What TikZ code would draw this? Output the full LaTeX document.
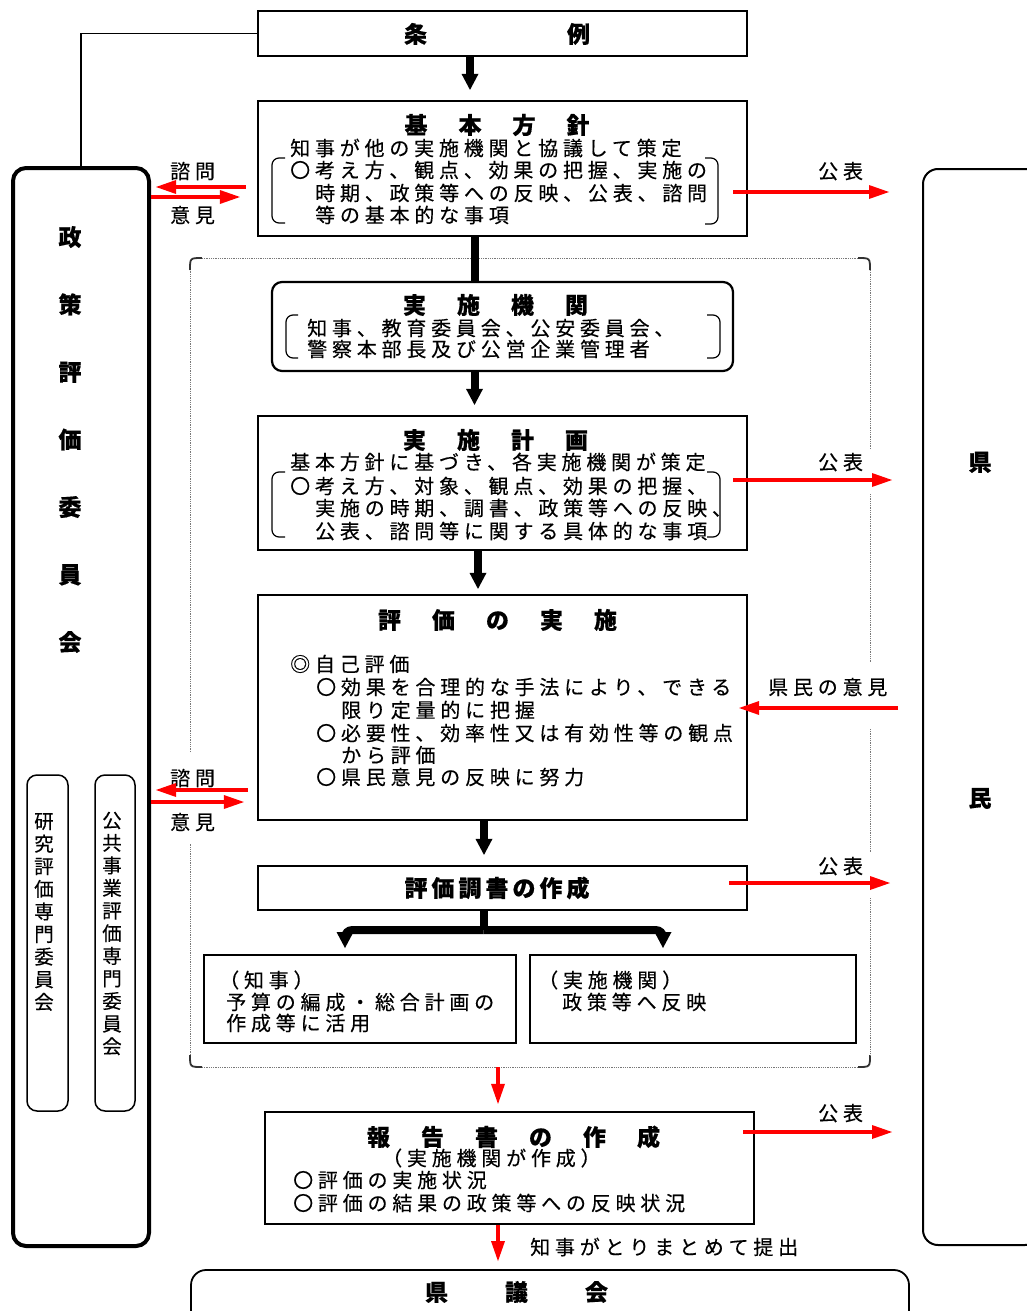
\documentclass[tikz,border=0pt]{standalone}
\usepackage{fontspec}
\usetikzlibrary{arrows.meta,calc}
\newfontfamily\jp[LetterSpace=24,FakeBold=0.3]{Noto Sans CJK JP}
\newfontfamily\jpv[FakeBold=0.3]{Noto Sans CJK JP}
\newfontfamily\jpt[BoldFeatures={FakeBold=0.6}]{Noto Sans CJK JP}
\definecolor{redA}{RGB}{255,0,0}
\definecolor{frameG}{RGB}{120,120,120}
\definecolor{cornerG}{RGB}{50,50,50}
\begin{document}
\begin{tikzpicture}[x=1pt,y=-1pt,
  box/.style={draw, line width=2.2pt, inner sep=0pt},
  txt/.style={anchor=west, inner sep=0pt, font=\jp\fontsize{20}{23}\selectfont, text height=17.6pt, text depth=2.4pt},
  ttl/.style={inner sep=0pt, font=\jpt\bfseries\fontsize{23}{27}\selectfont, text height=20.2pt, text depth=2.8pt},
  vtxt/.style={inner sep=0pt, align=center, font=\jpv\fontsize{19.5}{22.6}\selectfont},
  vbold/.style={inner sep=0pt, align=center, font=\jpt\bfseries\fontsize{23}{67.5}\selectfont},
  redarr/.style={draw=redA, line width=4pt, -{Triangle[length=20pt,width=14pt,line width=0pt]}},
  blk/.style={line width=8pt, -{Triangle[length=16pt,width=17pt,line width=0pt]}},
  brk/.style={line width=1.2pt, rounded corners=7pt},
  dotl/.style={draw=frameG, line width=0.8pt, densely dotted},
  corn/.style={draw=cornerG, line width=1.8pt}
]
\clip (0,0) rectangle (1027,1311);
\fill[white] (0,0) rectangle (1027,1311);

% ---------- main boxes ----------
\node[box, minimum width=489pt, minimum height=45pt] (jorei) at (502.5,33.5) {};
\node[box, minimum width=489pt, minimum height=135pt] (kihon) at (502.5,168.5) {};
\node[box, rounded corners=10pt, minimum width=461pt, minimum height=89pt] (kikan) at (502.5,326.5) {};
\node[box, minimum width=489pt, minimum height=134pt] (keikaku) at (502.5,483) {};
\node[box, minimum width=489pt, minimum height=225pt] (jisshi) at (502.5,707.5) {};
\node[box, minimum width=489pt, minimum height=44pt] (chosho) at (502.5,888) {};
\node[box, minimum width=312pt, minimum height=88pt] (chiji) at (360,999) {};
\node[box, minimum width=326pt, minimum height=88pt] (kikan2) at (693,999) {};
\node[box, minimum width=489pt, minimum height=112pt] (hokoku) at (509.5,1168) {};
\node[draw, line width=1.8pt, rounded corners=15pt, inner sep=0pt, minimum width=718pt, minimum height=65pt] (gikai) at (550,1302.5) {};
\node[draw, line width=4pt, rounded corners=13pt, inner sep=0pt, minimum width=136pt, minimum height=1078pt] (iinkai) at (81,707) {};
\node[draw, line width=1.5pt, rounded corners=10pt, inner sep=0pt, minimum width=41pt, minimum height=336pt] (kenkyu) at (47.5,943) {};
\node[draw, line width=1.5pt, rounded corners=10pt, inner sep=0pt, minimum width=40pt, minimum height=336pt] (koukyou) at (115,943) {};
\node[draw, line width=2pt, rounded corners=15pt, inner sep=0pt, minimum width=117pt, minimum height=1076pt] (kenmin) at (981.5,707) {};
\node[inner sep=0pt, minimum width=680pt, minimum height=809pt] (group) at (530,662.5) {};

% ---------- dotted group frame ----------
\draw[corn] (190,270) .. controls (190,258) .. (202,258);
\draw[corn] (858,258) .. controls (870,258) .. (870,270);
\draw[corn] (870,1055) .. controls (870,1067) .. (858,1067);
\draw[corn] (202,1067) .. controls (190,1067) .. (190,1055);
\draw[dotl] (202,258) -- (858,258);
\draw[dotl] (870,270) -- (870,449);
\draw[dotl] (870,494) -- (870,663);
\draw[dotl] (870,729) -- (870,853);
\draw[dotl] (870,898) -- (870,1055);
\draw[dotl] (858,1067) -- (202,1067);
\draw[dotl] (190,1055) -- (190,843);
\draw[dotl] (190,752) -- (190,270);

% ---------- texts ----------
\node[ttl] (t0) at (497,34) {条\hspace{140pt}例};

\node[ttl] (t1) at (497,125) {基\hspace{31pt}本\hspace{31pt}方\hspace{31pt}針};
\node[txt] (k1) at (290,148) {知事が他の実施機関と協議して策定};
\node[txt] (k2) at (290,170) {〇考え方、観点、効果の把握、実施の};
\node[txt] (k3) at (315,193) {時期、政策等への反映、公表、諮問};
\node[txt] (k4) at (315,215) {等の基本的な事項};
\draw[brk] (285,158) -- (272,158) -- (272,223) -- (285,223);
\draw[brk] (705,158) -- (718,158) -- (718,224) -- (705,224);

\node[ttl] (t2) at (495.5,305) {実\hspace{31pt}施\hspace{31pt}機\hspace{31pt}関};
\node[txt] (m1) at (307,328) {知事、教育委員会、公安委員会、};
\node[txt] (m2) at (307,349) {警察本部長及び公営企業管理者};
\draw[brk] (298,315) -- (286,315) -- (286,358) -- (298,358);
\draw[brk] (707,315) -- (720,315) -- (720,358) -- (707,358);

\node[ttl] (t3) at (495.5,440) {実\hspace{31pt}施\hspace{31pt}計\hspace{31pt}画};
\node[txt] (p1) at (290,462) {基本方針に基づき、各実施機関が策定};
\node[txt] (p2) at (290,486) {〇考え方、対象、観点、効果の把握、};
\node[txt] (p3) at (315,508) {実施の時期、調書、政策等への反映、};
\node[txt] (p4) at (315,531) {公表、諮問等に関する具体的な事項};
\draw[brk] (285,472) -- (272,472) -- (272,537) -- (285,537);
\draw[brk] (707,472) -- (720,472) -- (720,537) -- (707,537);

\node[ttl] (t4) at (497.5,620) {評\hspace{31pt}価\hspace{31pt}の\hspace{31pt}実\hspace{31pt}施};
\node[txt] (e1) at (290,664) {◎自己評価};
\node[txt] (e2) at (316,687) {〇効果を合理的な手法により、できる};
\node[txt] (e3) at (341,710) {限り定量的に把握};
\node[txt] (e4) at (316,733) {〇必要性、効率性又は有効性等の観点};
\node[txt] (e5) at (341,755) {から評価};
\node[txt] (e6) at (316,777) {〇県民意見の反映に努力};

\node[ttl] (t5) at (497,888) {評\hspace{4pt}価\hspace{4pt}調\hspace{4pt}書\hspace{4pt}の\hspace{4pt}作\hspace{4pt}成};

\node[txt] (c1) at (219,980) {（知事）};
\node[txt] (c2) at (226,1002) {予算の編成・総合計画の};
\node[txt] (c3) at (226,1023) {作成等に活用};
\node[txt] (d1) at (538,980) {（実施機関）};
\node[txt] (d2) at (562,1002) {政策等へ反映};

\node[ttl] (t6) at (513.5,1137) {報\hspace{31pt}告\hspace{31pt}書\hspace{31pt}の\hspace{31pt}作\hspace{31pt}成};
\node[txt] (h1) at (382,1158) {（実施機関が作成）};
\node[txt] (h2) at (293,1180) {〇評価の実施状況};
\node[txt] (h3) at (293,1203) {〇評価の結果の政策等への反映状況};

\node[ttl] (t7) at (516.5,1292) {県\hspace{57pt}議\hspace{57pt}会};

\node[ttl] (r1) at (980,462) {県};
\node[ttl] (r2) at (980,798) {民};

\node[vbold] (v0) at (70,439.5) {政\\策\\評\\価\\委\\員\\会};
\node[vtxt] (v1) at (44,912) {研\\究\\評\\価\\専\\門\\委\\員\\会};
\node[vtxt] (v2) at (112,933.5) {公\\共\\事\\業\\評\\価\\専\\門\\委\\員\\会};

% labels
\node[txt] (l1) at (170,171) {諮問};
\node[txt] (l2) at (170,215) {意見};
\node[txt] (l3) at (170,778) {諮問};
\node[txt] (l4) at (170,822) {意見};
\node[txt] (l5) at (818,171) {公表};
\node[txt] (l6) at (818,462) {公表};
\node[txt] (l7) at (818,866) {公表};
\node[txt] (l8) at (818,1113) {公表};
\node[txt] (l9) at (768,687) {県民の意見};
\node[txt] (l10) at (530,1247) {知事がとりまとめて提出};

% ---------- connectors ----------
\draw[line width=1.5pt] (jorei.west) -| (iinkai.north);
\draw[blk, shorten >=10pt] ([xshift=-32.5pt]jorei.south) -- ([xshift=-32.5pt]kihon.north);
\draw[line width=8pt] ([xshift=-27.5pt]kihon.south) -- ([xshift=-27.5pt]kikan.north);
\draw[blk, shorten >=10pt] ([xshift=-28pt]kikan.south) -- ([xshift=-28pt]keikaku.north);
\draw[blk, shorten >=5pt] ([xshift=-24.5pt]keikaku.south) -- ([xshift=-24.5pt]jisshi.north);
\draw[blk, shorten >=10pt] ([xshift=-18.5pt]jisshi.south) -- ([xshift=-18.5pt]chosho.north);
\draw[line width=8pt] ([xshift=-19pt]chosho.south) -- ++(0,19) coordinate (brM);
\coordinate (brL) at (345,948);
\coordinate (brR) at (663,948);
\draw[blk, rounded corners=7pt] (brM) -| (brL);
\draw[blk, rounded corners=7pt] (brM) -| (brR);

\draw[redarr, shorten >=7pt] ([xshift=-32pt]group.south) -- ([xshift=-11.5pt]hokoku.north);
\draw[redarr, shorten >=8pt] ([xshift=-11.5pt]hokoku.south) -- ([xshift=-52pt]gikai.north);

% consult / opinion
\draw[redarr] ($(kihon.west)+(-11,18.5)$) -- ($(iinkai.east |- kihon.west)+(5,18.5)$);
\draw[redarr] ($(iinkai.east |- kihon.west)+(0,28.5)$) -- ($(kihon.west)+(-17,28.5)$);
\draw[redarr] ($(jisshi.west)+(-9,82.5)$) -- ($(iinkai.east |- jisshi.west)+(5,82.5)$);
\draw[redarr] ($(iinkai.east |- jisshi.west)+(0,94.5)$) -- ($(jisshi.west)+(-13,94.5)$);

% publication
\draw[redarr] ($(kihon.east)+(-15,23.5)$) -- ($(kenmin.west |- kihon.east)+(-33,23.5)$);
\draw[redarr] ($(keikaku.east)+(-15,-3)$) -- ($(kenmin.west |- keikaku.east)+(-30,-3)$);
\draw[redarr] ($(chosho.east)+(-19,-5)$) -- ($(kenmin.west |- chosho.east)+(-32,-5)$);
\draw[redarr] ($(hokoku.east)+(-12,-36)$) -- ($(kenmin.west |- hokoku.east)+(-30,-36)$);

% citizens' opinion
\draw[redarr] ($(kenmin.west |- jisshi.east)+(-24,0.5)$) -- ($(jisshi.east)+(-9,0.5)$);
\end{tikzpicture}
\end{document}
